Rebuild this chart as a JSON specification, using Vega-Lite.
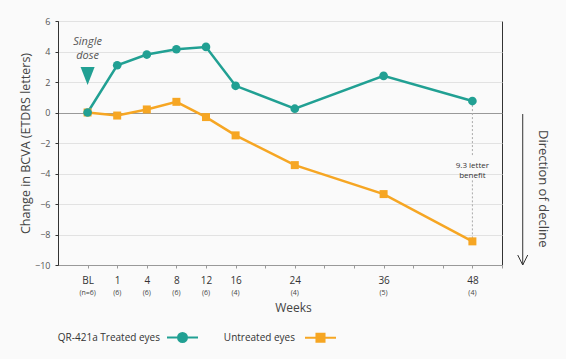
{
  "$schema": "https://vega.github.io/schema/vega-lite/v6.json",
  "width": 444,
  "height": 244,
  "autosize": {"type": "none"},
  "padding": {"left": 58, "top": 21, "right": 64, "bottom": 94},
  "background": "#fafafa",
  "config": {
    "view": {"stroke": "#333", "strokeWidth": 1},
    "font": "Open Sans",
    "axis": {"labelOverlap": false, "labelFlush": false}
  },
  "datasets": {
    "series": [
      {"week": "BL", "pos": 0, "group": "Untreated eyes", "value": 0},
      {"week": "1", "pos": 1, "group": "Untreated eyes", "value": -0.2},
      {"week": "4", "pos": 2, "group": "Untreated eyes", "value": 0.2},
      {"week": "8", "pos": 3, "group": "Untreated eyes", "value": 0.7},
      {"week": "12", "pos": 4, "group": "Untreated eyes", "value": -0.3},
      {"week": "16", "pos": 5, "group": "Untreated eyes", "value": -1.5},
      {"week": "24", "pos": 7, "group": "Untreated eyes", "value": -3.45},
      {"week": "36", "pos": 10, "group": "Untreated eyes", "value": -5.35},
      {"week": "48", "pos": 13, "group": "Untreated eyes", "value": -8.45},
      {"week": "BL", "pos": 0, "group": "QR-421a Treated eyes", "value": 0},
      {"week": "1", "pos": 1, "group": "QR-421a Treated eyes", "value": 3.1},
      {"week": "4", "pos": 2, "group": "QR-421a Treated eyes", "value": 3.8},
      {"week": "8", "pos": 3, "group": "QR-421a Treated eyes", "value": 4.15},
      {"week": "12", "pos": 4, "group": "QR-421a Treated eyes", "value": 4.3},
      {"week": "16", "pos": 5, "group": "QR-421a Treated eyes", "value": 1.75},
      {"week": "24", "pos": 7, "group": "QR-421a Treated eyes", "value": 0.25},
      {"week": "36", "pos": 10, "group": "QR-421a Treated eyes", "value": 2.4},
      {"week": "48", "pos": 13, "group": "QR-421a Treated eyes", "value": 0.75}
    ],
    "counts": [
      {"pos": 0, "n": "(n=6)"},
      {"pos": 1, "n": "(6)"},
      {"pos": 2, "n": "(6)"},
      {"pos": 3, "n": "(6)"},
      {"pos": 4, "n": "(6)"},
      {"pos": 5, "n": "(4)"},
      {"pos": 7, "n": "(4)"},
      {"pos": 10, "n": "(5)"},
      {"pos": 13, "n": "(4)"}
    ],
    "benefit": [
      {"pos": 13, "y": 0.75, "y2": -2.8},
      {"pos": 13, "y": -4.45, "y2": -8.45}
    ],
    "one": [{}]
  },
  "layer": [
    {
      "data": {"name": "benefit"},
      "mark": {"type": "rule", "color": "#aaaaaa", "strokeDash": [2, 2], "strokeWidth": 1},
      "encoding": {
        "x": {"field": "pos", "type": "quantitative", "scale": {"domain": [-1, 14], "nice": false, "zero": false},
          "axis": {
            "values": [0,1,2,3,4,5,6,7,8,9,10,11,12,13,14],
            "tickCount": 30,
            "labelExpr": "datum.value === 0 ? 'BL' : datum.value === 1 ? '1' : datum.value === 2 ? '4' : datum.value === 3 ? '8' : datum.value === 4 ? '12' : datum.value === 5 ? '16' : datum.value === 7 ? '24' : datum.value === 10 ? '36' : datum.value === 13 ? '48' : ''",
            "grid": false,
            "domainColor": "#999999",
            "tickColor": "#999999",
            "tickSize": 3,
            "labelFontSize": 10,
            "labelColor": "#333333",
            "labelPadding": 7,
            "title": "Weeks",
            "titleFontSize": 12,
            "titleFontWeight": "normal",
            "titleColor": "#444444",
            "titleX": 235,
            "titleY": 37
          }
        },
        "y": {"field": "y", "type": "quantitative", "scale": {"domain": [-10, 6], "nice": false},
          "axis": {
            "values": [-10,-8,-6,-4,-2,0,2,4,6],
            "tickCount": 20,
            "title": "Change in BCVA (ETDRS letters)",
            "titleFontSize": 12.5,
            "titleFontWeight": "normal",
            "titleColor": "#444444",
            "titlePadding": 2,
            "labelFontSize": 9,
            "labelColor": "#555555",
            "labelPadding": 5,
            "domainColor": "#333333",
            "tickColor": "#333333",
            "tickSize": 3,
            "gridColor": {"expr": "datum.value === 0 ? '#999999' : '#e2e2e2'"},
            "gridWidth": 1
          }
        },
        "y2": {"field": "y2"}
      }
    },
    {
      "data": {"name": "series"},
      "mark": {"type": "line", "strokeWidth": 2.5},
      "encoding": {
        "x": {"field": "pos", "type": "quantitative"},
        "y": {"field": "value", "type": "quantitative"},
        "color": {"field": "group", "type": "nominal",
          "scale": {"domain": ["QR-421a Treated eyes", "Untreated eyes"], "range": ["#21a093", "#f6a623"]},
          "legend": {
            "orient": "none",
            "legendX": 108,
            "legendY": 300,
            "direction": "horizontal",
            "title": null,
            "symbolType": "M-1,0L1,0M0.29,0A0.29,0.29 0 1,1 -0.29,0A0.29,0.29 0 1,1 0.29,0",
            "symbolSize": 961,
            "symbolStrokeWidth": 2,
            "labelFont": "Open Sans",
            "labelFontSize": 10,
            "labelColor": "#333333",
            "columnPadding": 21,
            "encode": {
              "symbols": {"update": {
                "shape": {"signal": "datum.value === 'Untreated eyes' ? 'M-1,0L1,0M-0.26,-0.26L0.26,-0.26L0.26,0.26L-0.26,0.26Z' : 'M-1,0L1,0M0.29,0A0.29,0.29 0 1,1 -0.29,0A0.29,0.29 0 1,1 0.29,0'"},
                "fill": {"scale": "color", "field": "value"},
                "stroke": {"scale": "color", "field": "value"},
                "strokeWidth": {"value": 2},
                "opacity": {"value": 1}
              }},
              "labels": {"update": {
                "x": {"signal": "datum.value === 'Untreated eyes' ? -9 : -6"},
                "align": {"value": "right"}
              }}
            }
          }
        }
      }
    },
    {
      "data": {"name": "series"},
      "transform": [{"filter": "datum.group === 'Untreated eyes'"}],
      "mark": {"type": "point", "filled": true, "opacity": 1, "size": 64, "shape": "square", "color": "#f6a623"},
      "encoding": {
        "x": {"field": "pos", "type": "quantitative"},
        "y": {"field": "value", "type": "quantitative"}
      }
    },
    {
      "data": {"name": "series"},
      "transform": [{"filter": "datum.group === 'QR-421a Treated eyes'"}],
      "mark": {"type": "point", "filled": true, "opacity": 1, "size": 75, "shape": "circle", "color": "#21a093"},
      "encoding": {
        "x": {"field": "pos", "type": "quantitative"},
        "y": {"field": "value", "type": "quantitative"}
      }
    },
    {
      "data": {"name": "counts"},
      "mark": {"type": "text", "fontSize": 7, "color": "#444444", "baseline": "middle", "dy": 28},
      "encoding": {
        "x": {"field": "pos", "type": "quantitative"},
        "y": {"datum": -10},
        "text": {"field": "n"}
      }
    },
    {
      "data": {"name": "one"},
      "mark": {"type": "text", "text": ["9.3 letter", "benefit"], "fontSize": 8, "color": "#333333", "lineHeight": 10, "baseline": "middle"},
      "encoding": {"x": {"datum": 13}, "y": {"datum": -3.5}}
    },
    {
      "data": {"name": "one"},
      "mark": {"type": "text", "text": ["Single", "dose"], "fontSize": 11, "fontStyle": "italic", "color": "#555555", "lineHeight": 14, "baseline": "middle"},
      "encoding": {"x": {"datum": 0}, "y": {"datum": 4.6}}
    },
    {
      "data": {"name": "one"},
      "mark": {"type": "point", "shape": "M-0.78,-1L0.78,-1L0,1Z", "filled": true, "opacity": 1, "size": 324, "color": "#21a093"},
      "encoding": {"x": {"datum": 0}, "y": {"datum": 2.4}}
    },
    {
      "data": {"name": "one"},
      "mark": {"type": "rule", "color": "#333333", "strokeWidth": 1},
      "encoding": {"x": {"datum": 14.7}, "y": {"datum": -0.1}, "y2": {"datum": -10}}
    },
    {
      "data": {"name": "one"},
      "mark": {"type": "point", "shape": "M-1,-2L0,0L1,-2", "filled": false, "opacity": 1, "size": 100, "color": "#333333", "strokeWidth": 1},
      "encoding": {"x": {"datum": 14.7}, "y": {"datum": -10}}
    },
    {
      "data": {"name": "one"},
      "mark": {"type": "text", "text": "Direction of decline", "angle": 90, "fontSize": 13, "color": "#444444", "baseline": "middle", "align": "center"},
      "encoding": {"x": {"datum": 15.37}, "y": {"datum": -5.0}}
    }
  ]
}
